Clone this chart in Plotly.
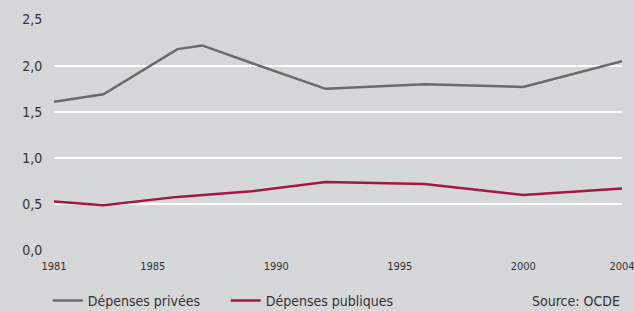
import plotly.graph_objects as go

years = [1981, 1983, 1986, 1987, 1989, 1992, 1996, 2000, 2004]
private = [1.61, 1.69, 2.18, 2.22, 2.03, 1.75, 1.80, 1.77, 2.05]
public = [0.53, 0.49, 0.58, 0.60, 0.64, 0.74, 0.72, 0.60, 0.67]
x_ticks = [1981, 1985, 1990, 1995, 2000, 2004]
y_ticks = [0, 0.5, 1.0, 1.5, 2.0, 2.5]
y_ticklabels = ["0,0", "0,5", "1,0", "1,5", "2,0", "2,5"]
series_names = ["Dépenses privées", "Dépenses publiques"]
source_text = "Source: OCDE"

FONT = "DejaVu Sans Condensed, Liberation Sans Narrow, sans-serif"
BG = "#d6d7d9"

fig = go.Figure()
fig.add_trace(go.Scatter(x=years, y=private, mode="lines", name=series_names[0],
                         line=dict(color="#6b6b6b", width=2.5)))
fig.add_trace(go.Scatter(x=years, y=public, mode="lines", name=series_names[1],
                         line=dict(color="#a3183f", width=2.5)))

fig.update_layout(
    width=634, height=311,
    margin=dict(l=54, r=12, t=19, b=60, autoexpand=False),
    paper_bgcolor=BG, plot_bgcolor=BG,
    font=dict(family=FONT, size=13, color="#333333"),
    showlegend=True,
    legend=dict(orientation="h", x=-0.011, xanchor="left",
                y=(251 - 301) / 232, yanchor="middle",
                bgcolor="rgba(0,0,0,0)", entrywidth=133, entrywidthmode="pixels",
                font=dict(family=FONT, size=14, color="#333333"),
                itemwidth=30, tracegroupgap=0),
    xaxis=dict(range=[1981, 2004], tickvals=x_ticks, ticktext=[str(t) for t in x_ticks],
               showgrid=False, zeroline=False, showline=False, ticks="outside",
               ticklen=5, tickcolor=BG, tickfont=dict(size=11),
               ticklabeloverflow="allow", automargin=False),
    yaxis=dict(range=[-0.006, 2.506], tickvals=y_ticks, ticktext=y_ticklabels,
               showgrid=True, gridcolor="#ffffff", gridwidth=2, zeroline=False,
               showline=False, ticks="outside", ticklen=8, tickcolor=BG,
               tickfont=dict(size=14), automargin=False),
    annotations=[dict(text=source_text, xref="paper", yref="paper", x=1.0,
                      y=(251 - 301) / 232, xanchor="right", yanchor="middle",
                      showarrow=False, font=dict(family=FONT, size=14, color="#333333"))],
)

fig.write_html("out.html", config={"displayModeBar": False},
               post_script="document.body.style.margin='0';document.body.style.background='%s';" % BG)
